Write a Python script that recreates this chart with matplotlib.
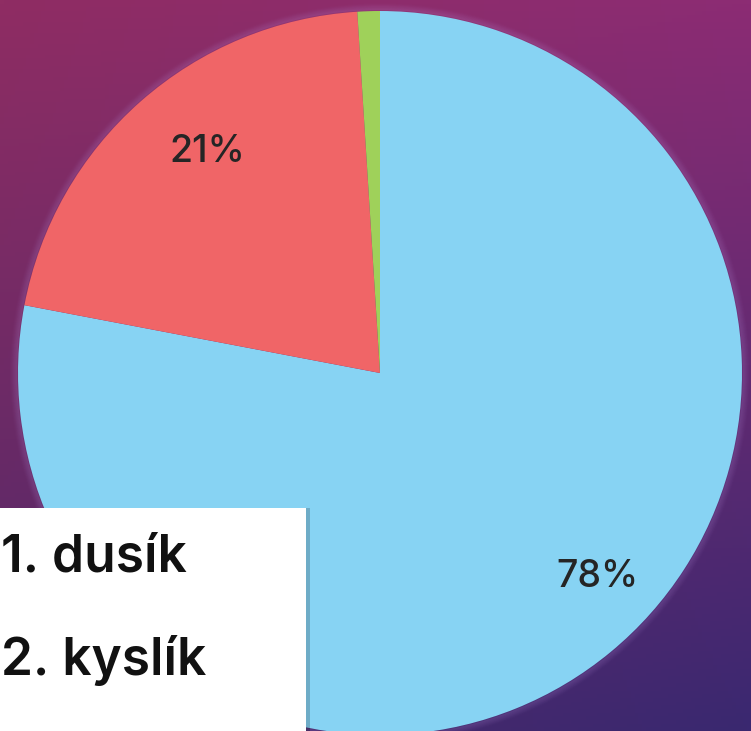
import numpy as np
import matplotlib
matplotlib.use("Agg")
import matplotlib.pyplot as plt
from matplotlib.patches import Rectangle, Circle

# Data
labels = ["dusík", "kyslík", "ostatní"]
values = [78, 21, 1]
colors = ["#87d3f3", "#f06567", "#9fd15a"]
legend_items = ["1. dusík", "2. kyslík"]

W, H = 751, 731
fig = plt.figure(figsize=(W / 100, H / 100), dpi=100)
ax = fig.add_axes([0, 0, 1, 1])
ax.set_xlim(0, W)
ax.set_ylim(0, H)
ax.axis("off")

# background gradient
tl = np.array([143, 45, 99]) / 255
tr = np.array([140, 44, 116]) / 255
bl = np.array([80, 40, 105]) / 255
br = np.array([58, 40, 112]) / 255
ny, nx = 200, 200
yy = np.linspace(0, 1, ny)[:, None, None]
xx = np.linspace(0, 1, nx)[None, :, None]
top = tl * (1 - xx) + tr * xx
bot = bl * (1 - xx) + br * xx
img = top * (1 - yy) + bot * yy
ax.imshow(img, extent=[0, W, 0, H], origin="upper", aspect="auto", zorder=0)

cx, cy, r = 380, H - 373, 362

# soft glow around the pie
for k in range(1, 8):
    ax.add_patch(Circle((cx, cy), r + k, fill=False, lw=1.5,
                        ec=(0.75, 0.6, 0.9, 0.10 * (8 - k) / 7), zorder=1))

wedges, texts, autotexts = ax.pie(
    values, colors=colors, startangle=90, counterclock=False,
    center=(cx, cy), radius=r, frame=True,
    autopct=lambda p: f"{p:.0f}%" if p > 5 else "",
    pctdistance=0.8,
    wedgeprops=dict(linewidth=0, zorder=2),
    textprops=dict(fontsize=27, color="#252525", fontweight="medium",
                   family=["Inter", "DejaVu Sans"]),
)
ax.set_xlim(0, W)
ax.set_ylim(0, H)
ax.set_aspect("auto")
ax.axis("off")

autotexts[0].set_position((598, H - 577))
autotexts[1].set_position((207, H - 152))
for t in autotexts:
    t.set_zorder(5)

# legend box
ax.add_patch(Rectangle((0, -5), 310, H - 508 + 5, fc=(0, 0, 0, 0.18), ec="none", zorder=6))
ax.add_patch(Rectangle((0, -5), 306, H - 508 + 5, fc="white", ec="none", zorder=7))
ys = [H - 572, H - 675]
for txt, yb in zip(legend_items, ys):
    ax.text(1, yb, txt, fontsize=37, color="#111111", fontweight="semibold",
            family=["Inter", "DejaVu Sans"], ha="left", va="baseline", zorder=8)

fig.savefig("out.png", dpi=100)
